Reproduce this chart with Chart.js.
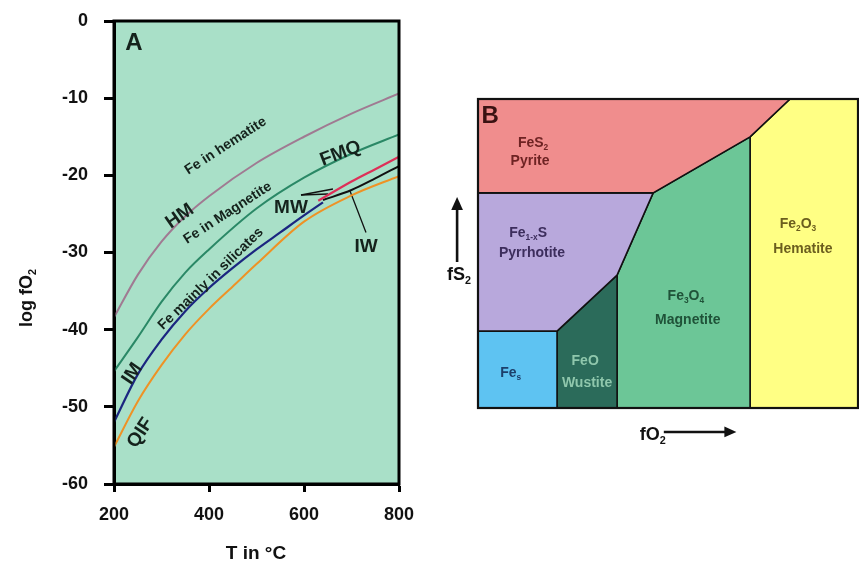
<!DOCTYPE html>
<html><head><meta charset="utf-8">
<script src="https://cdn.jsdelivr.net/npm/chart.js@4.4.0/dist/chart.umd.min.js"></script>
<style>
html,body{margin:0;padding:0;background:#fff;width:859px;height:562px;overflow:hidden}
#ca{position:absolute;left:0;top:0}
#cb{position:absolute;left:430px;top:0}
</style></head><body>
<canvas id="ca" width="430" height="562"></canvas>
<canvas id="cb" width="429" height="562"></canvas>
<script>
// ---------- Panel A data ----------
const xTicks = [200, 400, 600, 800];
const xTickLabels = ['200', '400', '600', '800'];
const yTicks = [0, -10, -20, -30, -40, -50, -60];
const yTickLabels = ['0', '-10', '-20', '-30', '-40', '-50', '-60'];

const tHM   = [200, 250, 300, 350, 400, 500, 600, 700, 800];
const logHM = [-38.4, -32.9, -28.6, -25.3, -22.7, -18.4, -15.0, -12.0, -9.4];

const tFMQ   = [200, 250, 300, 350, 400, 500, 600, 700, 800];
const logFMQ = [-45.4, -41.0, -36.4, -32.6, -29.6, -24.3, -20.3, -17.2, -14.7];

const tIM   = [200, 250, 300, 350, 400, 450, 500, 550, 600, 640];
const logIM = [-52.0, -45.8, -41.3, -37.6, -34.6, -32.0, -29.6, -27.4, -25.2, -23.5];

const tMW   = [630, 700, 750, 800];
const logMW = [-23.3, -20.8, -19.2, -17.6];

const tIW   = [640, 700, 750, 800];
const logIW = [-23.2, -21.9, -20.4, -18.8];

const tQIF   = [200, 250, 300, 350, 400, 450, 500, 600, 700, 800];
const logQIF = [-55.2, -49.3, -44.6, -40.6, -37.3, -34.4, -31.5, -26.0, -22.6, -20.1];

// leader lines for labels
const mwLeadT1 = [593.7, 661.0], mwLeadL1 = [-22.55, -21.77];
const mwLeadT2 = [593.7, 650.5], mwLeadL2 = [-22.55, -22.42];
const iwLeadT  = [696.8, 730.5], iwLeadL  = [-22.03, -27.4];

// text labels in panel A (data coordinates)
const aLabels = ['A', 'Fe in hematite', 'HM', 'Fe in Magnetite', 'FMQ', 'Fe mainly in silicates', 'IM', 'QIF', 'MW', 'IW'];
const aLabelT = [242.1, 433.7, 336.8, 437.9, 675.8, 402.1, 235.8, 252.6, 572.6, 730.5];
const aLabelL = [-2.66, -16.07, -25.14, -24.75, -16.98, -33.3, -45.6, -53.26, -23.97, -29.03];

// ---------- Panel B data ----------
const pyriteX = [0, 4.61, 7.16, 8.21, 0, 0];
const pyriteY = [5.57, 5.57, 7.02, 8, 8, 5.57];
const pyrrhX  = [0, 2.08, 3.66, 4.61, 0, 0];
const pyrrhY  = [1.99, 1.99, 3.44, 5.57, 5.57, 1.99];
const feX     = [0, 2.08, 2.08, 0, 0];
const feY     = [0, 0, 1.99, 1.99, 0];
const wusX    = [2.08, 3.66, 3.66, 2.08, 2.08];
const wusY    = [0, 0, 3.44, 1.99, 0];
const magX    = [3.66, 7.16, 7.16, 4.61, 3.66, 3.66];
const magY    = [0, 0, 7.02, 5.57, 3.44, 0];
const hemX    = [7.16, 10, 10, 8.21, 7.16, 7.16];
const hemY    = [0, 0, 8, 8, 7.02, 0];

const bLabels = ['B', 'FeS_{2}', 'Pyrite', 'Fe_{1-x}S', 'Pyrrhotite', 'Fe_{2}O_{3}', 'Hematite', 'Fe_{3}O_{4}', 'Magnetite', 'FeO', 'Wustite', 'Fe_{s}'];
const bLabelX = [0.32, 1.45, 1.37, 1.32, 1.42, 8.42, 8.55, 5.47, 5.52, 2.82, 2.87, 0.86];
const bLabelY = [7.61, 6.89, 6.42, 4.56, 4.04, 4.79, 4.14, 2.93, 2.30, 1.24, 0.67, 0.93];

const FAM = '"Liberation Sans", Arial, Helvetica, sans-serif';

function parseRich(s) {
  const out = []; const re = /([_^])\{([^}]*)\}/g; let last = 0, m;
  while ((m = re.exec(s))) {
    if (m.index > last) out.push([s.slice(last, m.index), null]);
    out.push([m[2], m[1] === '_' ? 'sub' : 'sup']);
    last = re.lastIndex;
  }
  if (last < s.length) out.push([s.slice(last), null]);
  return out;
}
function drawRich(ctx, str, x, y, angle, size, color) {
  const parts = parseRich(str);
  ctx.save();
  ctx.translate(x, y); ctx.rotate(angle * Math.PI / 180);
  ctx.fillStyle = color; ctx.textBaseline = 'alphabetic'; ctx.textAlign = 'left';
  const widths = []; let total = 0;
  parts.forEach(([t, m]) => {
    ctx.font = 'bold ' + (m ? size * 0.6 : size) + 'px ' + FAM;
    const w = ctx.measureText(t).width; widths.push(w); total += w;
  });
  let cx = -total / 2; const base = size * 0.36;
  parts.forEach(([t, m], i) => {
    ctx.font = 'bold ' + (m ? size * 0.6 : size) + 'px ' + FAM;
    const dy = m === 'sub' ? size * 0.22 : (m === 'sup' ? -size * 0.42 : 0);
    ctx.fillText(t, cx, base + dy); cx += widths[i];
  });
  ctx.restore();
}
const toXY = (xs, ys) => xs.map((v, i) => ({ x: v, y: ys[i] }));

// ---------- Chart A ----------
const aAngles = [0, -33, -35, -33, -21, -44, -56, -57, 0, 0];
const aSizes  = [24, 14, 19, 14, 19, 14, 19, 19, 19, 19];
const txtA = '#15221c';

const plotA = {
  id: 'plotA',
  beforeDraw(chart) {
    const { ctx, chartArea: c } = chart;
    ctx.save(); ctx.fillStyle = '#a9e0c8';
    ctx.fillRect(c.left, c.top, c.right - c.left, c.bottom - c.top);
    ctx.restore();
  },
  afterDraw(chart) {
    const { ctx, chartArea: c, scales: { x, y } } = chart;
    ctx.save(); ctx.strokeStyle = '#000'; ctx.lineWidth = 3;
    ctx.strokeRect(c.left, c.top, c.right - c.left, c.bottom - c.top);
    ctx.restore();
    aLabels.forEach((t, i) => {
      drawRich(ctx, t, x.getPixelForValue(aLabelT[i]), y.getPixelForValue(aLabelL[i]), aAngles[i], aSizes[i], txtA);
    });
    drawRich(ctx, 'log fO_{2}', 26, 298, -90, 18, '#111');
    drawRich(ctx, 'T in °C', 256, 552, 0, 19, '#111');
  }
};

const lineDs = (label, d, color, w) => ({
  label, data: d, borderColor: color, borderWidth: w, pointRadius: 0,
  showLine: true, tension: 0.4, cubicInterpolationMode: 'monotone', fill: false
});

new Chart(document.getElementById('ca'), {
  type: 'scatter',
  data: {
    datasets: [
      lineDs('HM', toXY(tHM, logHM), '#a07a92', 2),
      lineDs('FMQ', toXY(tFMQ, logFMQ), '#2a8866', 2),
      lineDs('QIF', toXY(tQIF, logQIF), '#ee9225', 2),
      lineDs('IM', toXY(tIM, logIM), '#1b2680', 2.2),
      lineDs('MW', toXY(tMW, logMW), '#de2f58', 2.2),
      lineDs('IW', toXY(tIW, logIW), '#111', 2),
      lineDs('lead1', toXY(mwLeadT1, mwLeadL1), '#111', 1.3),
      lineDs('lead2', toXY(mwLeadT2, mwLeadL2), '#111', 1.3),
      lineDs('lead3', toXY(iwLeadT, iwLeadL), '#111', 1.3)
    ]
  },
  options: {
    responsive: false, animation: false, devicePixelRatio: 1,
    layout: { padding: { left: 0, top: 21, right: 31, bottom: 0 } },
    plugins: { legend: { display: false }, tooltip: { enabled: false } },
    scales: {
      x: {
        type: 'linear', min: 200, max: 800,
        afterBuildTicks: s => { s.ticks = xTicks.map(v => ({ value: v })); },
        afterFit: s => { s.height = 78; s.paddingLeft = 0; s.paddingRight = 0; },
        ticks: { autoSkip: false, maxRotation: 0, padding: 12, color: '#111',
          font: { family: FAM, size: 18, weight: 'bold' },
          callback: v => xTickLabels[xTicks.indexOf(v)] },
        grid: { drawOnChartArea: false, drawTicks: true, tickLength: 8, tickWidth: 3, tickColor: '#000' },
        border: { display: true, width: 3, color: '#000' }
      },
      y: {
        type: 'linear', min: -60, max: 0,
        afterBuildTicks: s => { s.ticks = yTicks.map(v => ({ value: v })); },
        afterFit: s => { s.width = 114; s.paddingTop = 0; s.paddingBottom = 0; },
        ticks: { autoSkip: false, padding: 16, color: '#111',
          font: { family: FAM, size: 18, weight: 'bold' },
          callback: v => yTickLabels[yTicks.indexOf(v)] },
        grid: { drawOnChartArea: false, drawTicks: true, tickLength: 10, tickWidth: 3, tickColor: '#000' },
        border: { display: true, width: 3, color: '#000' }
      }
    }
  },
  plugins: [plotA]
});

// ---------- Chart B ----------
const bColors = ['#3a1212', '#6e2323', '#6e2323', '#3c2d5c', '#3c2d5c', '#6b5e1e', '#6b5e1e', '#1f5238', '#1f5238', '#8fc7ac', '#8fc7ac', '#1c3f6b'];
const bSizes  = [24, 14, 14, 14, 14, 14, 14, 14, 14, 14, 14, 14];

const arrow = (ctx, x1, y1, x2, y2, head) => {
  const a = Math.atan2(y2 - y1, x2 - x1);
  ctx.beginPath(); ctx.moveTo(x1, y1);
  ctx.lineTo(x2 - Math.cos(a) * head * 0.8, y2 - Math.sin(a) * head * 0.8); ctx.stroke();
  ctx.beginPath(); ctx.moveTo(x2, y2);
  ctx.lineTo(x2 - head * Math.cos(a) + head * 0.45 * Math.sin(a), y2 - head * Math.sin(a) - head * 0.45 * Math.cos(a));
  ctx.lineTo(x2 - head * Math.cos(a) - head * 0.45 * Math.sin(a), y2 - head * Math.sin(a) + head * 0.45 * Math.cos(a));
  ctx.closePath(); ctx.fill();
};

const plotB = {
  id: 'plotB',
  afterDraw(chart) {
    const { ctx, chartArea: c, scales: { x, y } } = chart;
    ctx.save(); ctx.strokeStyle = '#111'; ctx.lineWidth = 2.2;
    ctx.strokeRect(c.left, c.top, c.right - c.left, c.bottom - c.top);
    ctx.restore();
    bLabels.forEach((t, i) => {
      drawRich(ctx, t, x.getPixelForValue(bLabelX[i]), y.getPixelForValue(bLabelY[i]), 0, bSizes[i], bColors[i]);
    });
    ctx.save(); ctx.strokeStyle = '#111'; ctx.fillStyle = '#111'; ctx.lineWidth = 2.6;
    arrow(ctx, x.getPixelForValue(-0.55), y.getPixelForValue(3.78), x.getPixelForValue(-0.55), y.getPixelForValue(5.46), 13);
    arrow(ctx, x.getPixelForValue(4.89), y.getPixelForValue(-0.62), x.getPixelForValue(6.8), y.getPixelForValue(-0.62), 12);
    ctx.restore();
    drawRich(ctx, 'fS_{2}', x.getPixelForValue(-0.5), y.getPixelForValue(3.49), 0, 18, '#111');
    drawRich(ctx, 'fO_{2}', x.getPixelForValue(4.6), y.getPixelForValue(-0.66), 0, 18, '#111');
  }
};

const polyDs = (label, xs, ys, color) => ({
  label, data: toXY(xs, ys), showLine: true, pointRadius: 0, tension: 0,
  borderColor: '#111', borderWidth: 1.6, backgroundColor: color, fill: 'shape', clip: 3
});

new Chart(document.getElementById('cb'), {
  type: 'scatter',
  data: {
    datasets: [
      polyDs('Pyrite', pyriteX, pyriteY, '#f08d8d'),
      polyDs('Pyrrhotite', pyrrhX, pyrrhY, '#b8a8dc'),
      polyDs('Fe', feX, feY, '#5ec3f2'),
      polyDs('Wustite', wusX, wusY, '#2b6b5a'),
      polyDs('Magnetite', magX, magY, '#6cc697'),
      polyDs('Hematite', hemX, hemY, '#ffff84')
    ]
  },
  options: {
    responsive: false, animation: false, devicePixelRatio: 1,
    layout: { padding: { left: 48, top: 99, right: 1, bottom: 154 } },
    plugins: { legend: { display: false }, tooltip: { enabled: false } },
    scales: {
      x: { type: 'linear', min: 0, max: 10, display: false },
      y: { type: 'linear', min: 0, max: 8, display: false }
    }
  },
  plugins: [plotB]
});
</script>
</body></html>
